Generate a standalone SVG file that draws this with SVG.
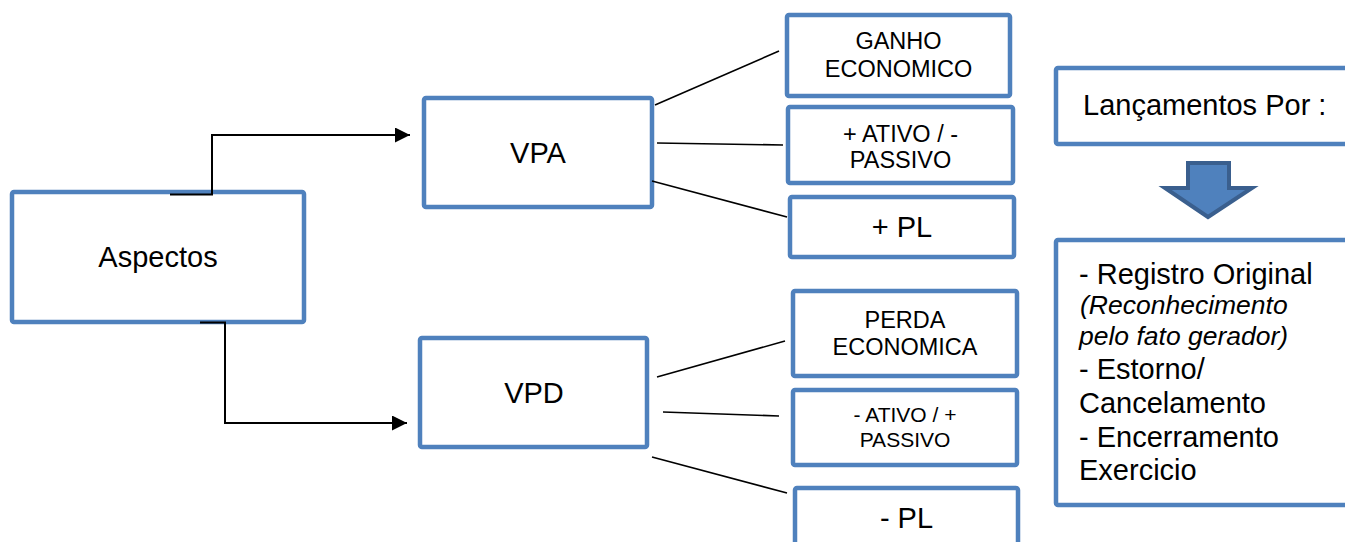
<svg xmlns="http://www.w3.org/2000/svg" width="1345" height="542" viewBox="0 0 1345 542">
<style>
.box{fill:#fff;stroke:#4F81BD;stroke-width:4.5}
.t{font-family:"Liberation Sans",Arial,sans-serif;fill:#000}
.c{text-anchor:middle}
.big{font-size:29px}
.mid{font-size:23.5px}
.conn{fill:none;stroke:#000;stroke-width:2}
.ln{fill:none;stroke:#000;stroke-width:1.6}
</style>
<defs>
<marker id="ah" markerUnits="userSpaceOnUse" markerWidth="16" markerHeight="16" refX="15" refY="7.5" orient="auto">
<path d="M0,0 L15,7.5 L0,15 z" fill="#000"/>
</marker>
</defs>
<rect width="1345" height="542" fill="#fff"/>
<g id="aspectos">
<rect class="box" x="12" y="192" width="292" height="130" rx="2"/>
<text class="t c big" x="158" y="267">Aspectos</text>
</g>
<g id="vpa">
<rect class="box" x="424" y="98" width="228" height="109" rx="2"/>
<text class="t c big" x="538" y="163">VPA</text>
</g>
<g id="vpd">
<rect class="box" x="420" y="338" width="227" height="109" rx="2"/>
<text class="t c big" x="534" y="403">VPD</text>
</g>
<g id="ganho">
<rect class="box" x="787" y="15" width="223" height="81" rx="2"/>
<text class="t c mid" x="898.5" y="49">GANHO</text>
<text class="t c mid" x="898.5" y="77">ECONOMICO</text>
</g>
<g id="ativo-pos">
<rect class="box" x="788" y="107" width="225" height="76" rx="2"/>
<text class="t c mid" x="900.5" y="142">+ ATIVO / -</text>
<text class="t c mid" x="900.5" y="168">PASSIVO</text>
</g>
<g id="pl-pos">
<rect class="box" x="790" y="197" width="224" height="60" rx="2"/>
<text class="t c big" x="902" y="237">+ PL</text>
</g>
<g id="perda">
<rect class="box" x="793" y="291" width="224" height="85" rx="2"/>
<text class="t c mid" x="905" y="328">PERDA</text>
<text class="t c mid" x="905" y="355">ECONOMICA</text>
</g>
<g id="ativo-neg">
<rect class="box" x="793" y="390" width="224" height="75" rx="2"/>
<text class="t c" x="905" y="422" font-size="21">- ATIVO / +</text>
<text class="t c" x="905" y="447" font-size="21">PASSIVO</text>
</g>
<g id="pl-neg">
<rect class="box" x="795" y="488" width="223" height="100" rx="2"/>
<text class="t c big" x="906.5" y="528">- PL</text>
</g>
<g id="lancamentos">
<rect class="box" x="1056" y="68" width="400" height="76" rx="2"/>
<text class="t big" x="1083" y="115">Lançamentos Por :</text>
</g>
<g id="seta">
<path d="M1188,163 H1229 V188 H1252 L1208,217 L1165,188 H1188 Z" fill="#4F81BD" stroke="#3A5F8E" stroke-width="4" stroke-linejoin="miter"/>
</g>
<g id="lista">
<rect class="box" x="1056" y="240" width="400" height="265" rx="2"/>
<text class="t big" x="1079" y="284">- Registro Original</text>
<text class="t" x="1080" y="314" font-size="26.5" font-style="italic">(Reconhecimento</text>
<text class="t" x="1079" y="345" font-size="26.5" font-style="italic">pelo fato gerador)</text>
<text class="t big" x="1079" y="379">- Estorno/</text>
<text class="t big" x="1079" y="413">Cancelamento</text>
<text class="t big" x="1079" y="447">- Encerramento</text>
<text class="t big" x="1079" y="480">Exercicio</text>
</g>
<g id="connectors">
<path class="conn" d="M170,194.5 H212 V135 H410" marker-end="url(#ah)"/>
<path class="conn" d="M200,322.5 H225 V423 H407" marker-end="url(#ah)"/>
<line class="ln" x1="655" y1="105" x2="779" y2="51"/>
<line class="ln" x1="657" y1="143" x2="783" y2="145"/>
<line class="ln" x1="652" y1="181" x2="787" y2="217"/>
<line class="ln" x1="657" y1="377" x2="785" y2="341"/>
<line class="ln" x1="663" y1="412" x2="779" y2="416"/>
<line class="ln" x1="652" y1="457" x2="787" y2="493"/>
</g>
</svg>
